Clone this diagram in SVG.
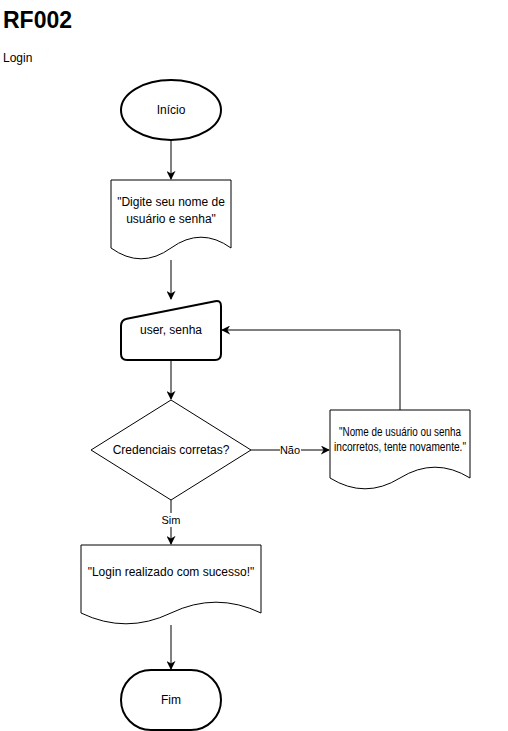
<svg xmlns="http://www.w3.org/2000/svg" width="508" height="731" viewBox="0 0 508 731">
<style>
text{font-family:"Liberation Sans",Arial,sans-serif;fill:#000}
.t{font-size:12px;text-anchor:middle}
.lbl{font-size:11px;text-anchor:middle}
.thick{fill:#fff;stroke:#000;stroke-width:2}
.thin{fill:#fff;stroke:#000;stroke-width:1}
.edge{fill:none;stroke:#000;stroke-width:1}
</style>
<defs>
<marker id="arr" viewBox="0 0 10 10" refX="9" refY="5" markerWidth="9" markerHeight="9" markerUnits="userSpaceOnUse" orient="auto">
<path d="M0,0 L10,5 L0,10 L3,5 Z" fill="#000"/>
</marker>
</defs>
<rect width="508" height="731" fill="#fff"/>
<text x="3" y="28" style="font-size:23px;font-weight:bold">RF002</text>
<text x="3" y="62" style="font-size:12px">Login</text>

<g id="connectors">
<path class="edge" d="M171,140 V179" marker-end="url(#arr)"/>
<path class="edge" d="M171,260 V299" marker-end="url(#arr)"/>
<path class="edge" d="M171,360 V399" marker-end="url(#arr)"/>
<path class="edge" d="M251,450 H329" marker-end="url(#arr)"/>
<path class="edge" d="M400,410 V330 H222" marker-end="url(#arr)"/>
<path class="edge" d="M171,500 V544" marker-end="url(#arr)"/>
<path class="edge" d="M171,625 V669" marker-end="url(#arr)"/>
<rect x="280" y="443" width="21" height="14" fill="#fff"/>
<text class="lbl" x="290" y="454">Não</text>
<rect x="161" y="513" width="20" height="14" fill="#fff"/>
<text class="lbl" x="171" y="524">Sim</text>
</g>

<g id="inicio">
<ellipse class="thick" cx="171" cy="110" rx="50" ry="30"/>
<text class="t" x="171" y="114">Início</text>
</g>

<g id="doc-digite">
<path class="thin" d="M111,180 H231 V248 Q201,226.4 171,248 Q141,269.6 111,248 Z"/>
<text class="t" x="171" y="206">"Digite seu nome de</text>
<text class="t" x="171" y="223">usuário e senha"</text>
</g>

<g id="input-user">
<path class="thick" d="M121,326 Q121,320 126.9,318.8 L215.1,301.2 Q221,300 221,306 L221,354 Q221,360 215,360 L127,360 Q121,360 121,354 Z"/>
<text class="t" x="171" y="334">user, senha</text>
</g>

<g id="decision">
<path class="thin" d="M171,400 L251,450 L171,500 L91,450 Z"/>
<text class="t" x="171" y="454">Credenciais corretas?</text>
</g>

<g id="doc-erro">
<path class="thin" d="M330,410 H470 V478 Q435,456.4 400,478 Q365,499.6 330,478 Z"/>
<text class="t" x="400" y="436" textLength="122" lengthAdjust="spacingAndGlyphs">"Nome de usuário ou senha</text>
<text class="t" x="400" y="451" textLength="132" lengthAdjust="spacingAndGlyphs">incorretos, tente novamente."</text>
</g>

<g id="doc-sucesso">
<path class="thin" d="M81,545 H261 V613 Q216,591.4 171,613 Q126,634.6 81,613 Z"/>
<text class="t" x="171" y="576">"Login realizado com sucesso!"</text>
</g>

<g id="fim">
<rect class="thick" x="121" y="670" width="100" height="60" rx="30" ry="30"/>
<text class="t" x="171" y="704">Fim</text>
</g>
</svg>
